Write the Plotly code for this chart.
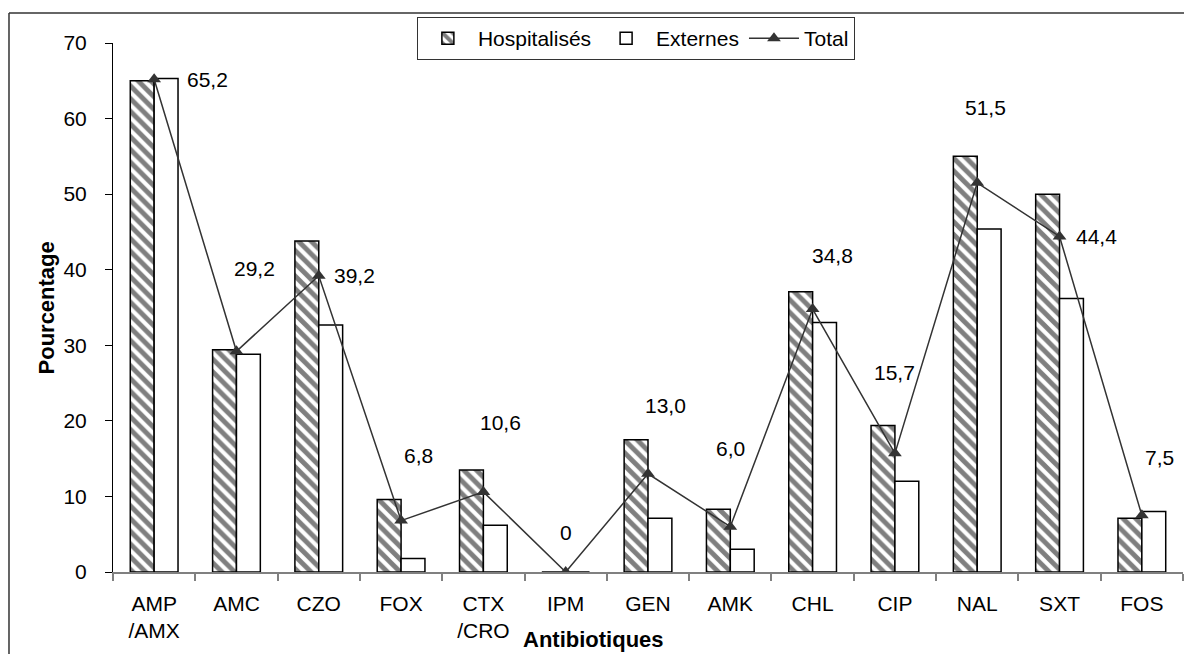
import plotly.graph_objects as go

categories = ["AMP<br>/AMX", "AMC", "CZO", "FOX", "CTX<br>/CRO", "IPM", "GEN",
              "AMK", "CHL", "CIP", "NAL", "SXT", "FOS"]
hospitalises = [65.0, 29.4, 43.8, 9.6, 13.5, 0, 17.5, 8.3, 37.1, 19.4, 55.0, 50.0, 7.1]
externes = [65.3, 28.8, 32.7, 1.8, 6.2, 0, 7.1, 3.0, 33.0, 12.0, 45.4, 36.2, 8.0]
total = [65.2, 29.2, 39.2, 6.8, 10.6, 0, 13.0, 6.0, 34.8, 15.7, 51.5, 44.4, 7.5]
y_ticks = [0, 10, 20, 30, 40, 50, 60, 70]

# label offsets (pixels) for the Total data labels, as placed in the original
label_dx = [53, 18, 36, 17, 17, 0, 17, 0, 20, 0, 8, 37, 18]
label_dy = [0, 83, 0, 65, 69, 40, 68, 78, 54, 81, 75, 0, 58]

FONT = "Liberation Sans, Arial, sans-serif"
DARK = "#333333"
FS = 21

fig = go.Figure()
fig.add_trace(go.Bar(
    x=categories, y=hospitalises, name="Hospitalisés",
    marker=dict(color="white", line=dict(color="black", width=1.5),
                pattern=dict(shape="\\", fgcolor="black", bgcolor="white",
                             size=9, solidity=0.55)),
))
fig.add_trace(go.Bar(
    x=categories, y=externes, name="Externes",
    marker=dict(color="white", line=dict(color="black", width=1.5)),
))
fig.add_trace(go.Scatter(
    x=categories, y=total, name="Total", mode="lines+markers",
    line=dict(color=DARK, width=1.5),
    marker=dict(symbol="triangle-up", size=12, color=DARK),
))

def fmt(v):
    return "0" if v == 0 else f"{v:.1f}".replace(".", ",")

for c, v, dx, dy in zip(categories, total, label_dx, label_dy):
    fig.add_annotation(x=c, y=v, text=fmt(v), showarrow=False,
                       xshift=dx, yshift=dy, xanchor="center", yanchor="middle",
                       font=dict(family=FONT, size=FS, color="black"))

# axis titles
fig.add_annotation(xref="paper", yref="paper", x=-0.0617, y=0.5,
                   xanchor="center", yanchor="middle",
                   text="<b>Pourcentage</b>", textangle=-90, showarrow=False,
                   font=dict(family=FONT, size=22, color="black"))
fig.add_annotation(xref="paper", yref="paper", x=0.4495, y=-0.1285,
                   xanchor="center", yanchor="middle",
                   text="<b>Antibiotiques</b>", showarrow=False,
                   font=dict(family=FONT, size=22, color="black"))

# outer frame
fig.add_shape(type="line", xref="paper", yref="paper", x0=-0.0972, x1=-0.0972,
              y0=-0.3, y1=1.0567, line=dict(color=DARK, width=1.5))
fig.add_shape(type="line", xref="paper", yref="paper", x0=-0.0972, x1=1.01,
              y0=1.0567, y1=1.0567, line=dict(color=DARK, width=1.5))

fig.update_layout(
    width=1184, height=654,
    margin=dict(l=113, r=1, t=43, b=82),
    paper_bgcolor="white", plot_bgcolor="white",
    barmode="group", bargap=0.42, bargroupgap=0,
    font=dict(family=FONT, size=FS, color="black"),
    legend=dict(orientation="h", x=0.284, y=1.049, xanchor="left", yanchor="top",
                bordercolor=DARK, borderwidth=1, bgcolor="white",
                font=dict(family=FONT, size=FS), itemwidth=50,
                traceorder="normal"),
    xaxis=dict(type="category", range=[-0.5, len(categories) - 0.5],
               showline=True, linecolor="#808080", linewidth=1.5,
               ticks="outside", tickson="boundaries", ticklen=7, tickcolor="#808080",
               tickwidth=1.5, showgrid=False, zeroline=False,
               tickfont=dict(family=FONT, size=FS), ticklabelstandoff=12),
    yaxis=dict(range=[0, 70], tickvals=y_ticks, showline=True, linecolor="black",
               linewidth=1, ticks="outside", ticklen=7, tickcolor="black",
               showgrid=False, zeroline=False,
               tickfont=dict(family=FONT, size=FS), ticklabelstandoff=14),
    showlegend=True,
)

fig.write_html("out.html")
